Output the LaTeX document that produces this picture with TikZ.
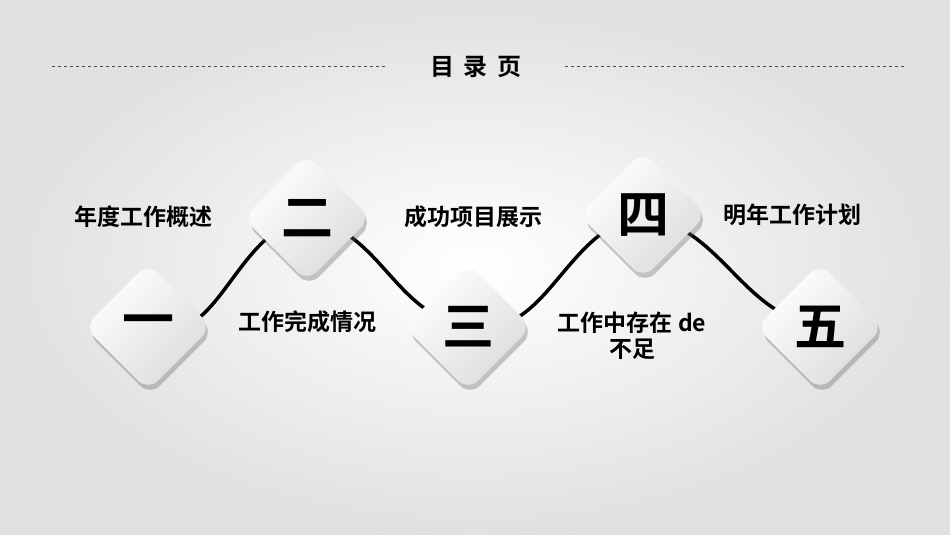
\documentclass[tikz,border=0pt]{standalone}
\usepackage{fontspec}
\setmainfont{Noto Sans CJK SC}
\newfontfamily\cjkbold{Noto Sans CJK SC Bold}
\usetikzlibrary{shadows}
\tikzset{
  diamondbox/.style={rectangle, rotate=45, minimum size=90pt, rounded corners=14pt,
    top color=white, bottom color=black!14, shading angle=45,
    drop shadow={shadow xshift=2pt, shadow yshift=-5pt, opacity=0.35, fill=black!60}},
  numtext/.style={font=\cjkbold\fontsize{52}{52}\selectfont},
  labeltext/.style={font=\cjkbold\fontsize{23}{26}\selectfont, align=center},
  wave/.style={line width=3.5pt, draw=black},
  rule/.style={dashed, draw=black!70, line width=0.6pt}
}
\begin{document}
\begin{tikzpicture}[x=1pt, y=-1pt]
    \useasboundingbox (0,0) rectangle (950,535);
    \shade[inner color=white, outer color=black!12] (0,0) rectangle (950,535);
    % Title
    \node [font=\cjkbold\fontsize{24}{28}\selectfont] (title) at (476,67) {目\hspace{10pt}录\hspace{10pt}页};
    \coordinate (r1a) at (52,66);
    \coordinate (r1b) at (385,66);
    \coordinate (r2a) at (565,66);
    \coordinate (r2b) at (905,66);
    \draw [rule] (r1a) -- (r1b);
    \draw [rule] (r2a) -- (r2b);
    % Centres of the diamonds
    \coordinate (c1) at (148,327);
    \coordinate (c2) at (307,218);
    \coordinate (c3) at (468,327);
    \coordinate (c4) at (643,215);
    \coordinate (c5) at (820,327);
    % Draw edges
    \draw [wave] (c1) to[out=-20, in=190] (c2);
    \draw [wave] (c2) to[out=-10, in=170] (c3);
    \draw [wave] (c3) to[out=-10, in=190] (c4);
    \draw [wave] (c4) to[out=-10, in=170] (c5);
    % Place nodes
    \node [diamondbox] (d1) at (c1) {};
    \node [diamondbox] (d2) at (c2) {};
    \node [diamondbox] (d3) at (c3) {};
    \node [diamondbox] (d4) at (c4) {};
    \node [diamondbox] (d5) at (c5) {};
    \node [numtext] at (d1) {一};
    \node [numtext] at (d2) {二};
    \node [numtext] at (d3) {三};
    \node [numtext] at (d4) {四};
    \node [numtext] at (d5) {五};
    % Labels
    \node [labeltext] (l1) at (143,217) {年度工作概述};
    \node [labeltext] (l2) at (307,322) {工作完成情况};
    \node [labeltext] (l3) at (473,217) {成功项目展示};
    \node [labeltext] (l4) at (632,336) {工作中存在 de\\不足};
    \node [labeltext] (l5) at (792,215) {明年工作计划};
\end{tikzpicture}
\end{document}
